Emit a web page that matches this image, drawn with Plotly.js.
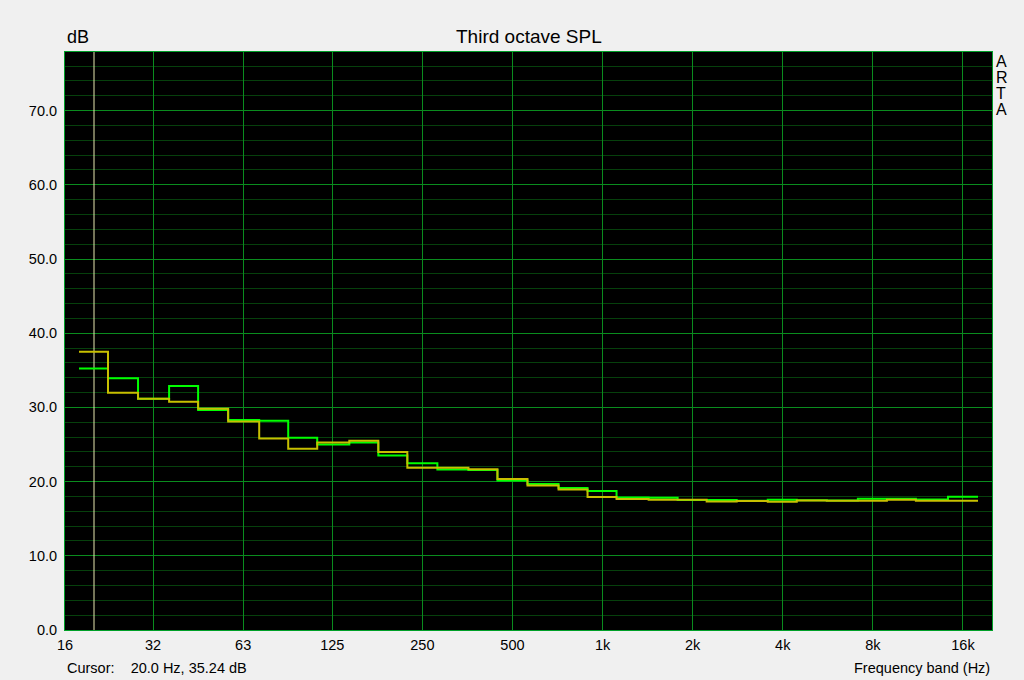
<!DOCTYPE html>
<html>
<head>
<meta charset="utf-8">
<script src="https://cdn.plot.ly/plotly-3.0.1.min.js"></script>
<style>
html,body{margin:0;padding:0;background:#f0f0f0;}
#chart{width:1024px;height:680px;}
</style>
</head>
<body>
<div id="chart"></div>
<script>
// Third-octave band centre frequencies (Hz)
var bands = [20, 25, 31.5, 40, 50, 63, 80, 100, 125, 160, 200, 250, 315, 400, 500, 630, 800,
             1000, 1250, 1600, 2000, 2500, 3150, 4000, 5000, 6300, 8000, 10000, 12500, 16000];
// Green series (dB)
var greenDb = [35.24, 33.94, 31.15, 32.90, 29.65, 28.29, 28.20, 25.90, 25.00, 25.28, 23.53, 22.49,
               21.62, 21.55, 20.16, 19.67, 19.13, 18.72, 17.87, 17.82, 17.52, 17.51, 17.42, 17.56,
               17.48, 17.44, 17.69, 17.69, 17.60, 17.96];
// Yellow series (dB)
var yellowDb = [37.49, 31.97, 31.15, 30.76, 29.81, 28.10, 25.80, 24.42, 25.28, 25.50, 23.98, 21.87,
                21.87, 21.66, 20.34, 19.49, 18.95, 17.91, 17.67, 17.56, 17.56, 17.33, 17.40, 17.30,
                17.46, 17.42, 17.42, 17.56, 17.42, 17.42];
// Axis tick values and labels
var xTickVals = [16, 31.5, 63, 125, 250, 500, 1000, 2000, 4000, 8000, 16000];
var xTickText = ['16', '32', '63', '125', '250', '500', '1k', '2k', '4k', '8k', '16k'];
var minorX = [20, 25, 40, 50, 80, 100, 160, 200, 315, 400, 630, 800, 1250, 1600, 2500, 3150,
              5000, 6300, 10000, 12500];
var cursorFreq = 20.0;
var cursorDb = 35.24;
var yMax = 77.9;
var xMin = 16, xMax = 20000;

// Build step outlines: each band spans f/2^(1/6) .. f*2^(1/6)
function stepXY(vals) {
  var xs = [], ys = [];
  for (var i = 0; i < bands.length; i++) {
    xs.push(bands[i] / Math.pow(2, 1/6));
    ys.push(vals[i]);
  }
  xs.push(bands[bands.length - 1] * Math.pow(2, 1/6));
  ys.push(vals[vals.length - 1]);
  return {x: xs, y: ys};
}
var g = stepXY(greenDb), yl = stepXY(yellowDb);

var traces = [
  {x: [cursorFreq, cursorFreq], y: [0, yMax], type: 'scatter', mode: 'lines',
   line: {color: '#e8e8b0', width: 1}, hoverinfo: 'skip', showlegend: false},
  {x: g.x, y: g.y, type: 'scatter', mode: 'lines', line: {shape: 'hv', color: '#00ff00', width: 2},
   hoverinfo: 'skip', showlegend: false},
  {x: yl.x, y: yl.y, type: 'scatter', mode: 'lines', line: {shape: 'hv', color: '#c8c000', width: 2},
   hoverinfo: 'skip', showlegend: false}
];

var ff = 'Liberation Sans, Arial, sans-serif';
var font = {family: ff, size: 14.5, color: '#000'};
var bigFont = {family: ff, size: 18, color: '#000'};

var arta = ['A', 'R', 'T', 'A'];
var annotations = [
  {text: 'Third octave SPL', xref: 'paper', yref: 'paper', x: 0.5, y: 1, yanchor: 'bottom',
   yshift: 3, showarrow: false, font: {family: ff, size: 19, color: '#000'}},
  {text: 'dB', xref: 'paper', yref: 'paper', x: 0, y: 1, xanchor: 'left', yanchor: 'bottom',
   yshift: 3, showarrow: false, font: bigFont}
];
for (var k = 0; k < arta.length; k++) {
  annotations.push({text: arta[k], xref: 'paper', yref: 'paper', x: 1, y: 1, xanchor: 'left',
    yanchor: 'middle', xshift: 3, yshift: -9 - 16 * k, showarrow: false, borderpad: 0,
    font: {family: ff, size: 16, color: '#000'}});
}
annotations.push(
  {text: 'Cursor:&nbsp;&nbsp;&nbsp;&nbsp;' + cursorFreq.toFixed(1) + ' Hz, ' + cursorDb.toFixed(2) + ' dB',
   xref: 'paper', yref: 'paper', x: 0, y: 0, xanchor: 'left', yanchor: 'top', yshift: -28,
   showarrow: false, font: font},
  {text: 'Frequency band (Hz)', xref: 'paper', yref: 'paper', x: 1, y: 0, xanchor: 'right', yanchor: 'top',
   yshift: -28, showarrow: false, font: font}
);

var layout = {
  width: 1024, height: 680,
  paper_bgcolor: '#f0f0f0', plot_bgcolor: '#000000',
  margin: {l: 65, r: 32, t: 52, b: 50},
  font: font,
  showlegend: false,
  xaxis: {
    type: 'log',
    range: [Math.log10(xMin), Math.log10(xMax)],
    tickmode: 'array', tickvals: xTickVals, ticktext: xTickText,
    showgrid: true, gridcolor: '#0a8c1e', gridwidth: 1,
    ticks: '', zeroline: false,
    showline: true, mirror: true, linecolor: '#00a028', linewidth: 1,
    tickfont: font, ticklabelstandoff: 2
  },
  xaxis2: {
    type: 'log', overlaying: 'x', side: 'top',
    range: [Math.log10(xMin), Math.log10(xMax)],
    tickmode: 'array', tickvals: minorX, showticklabels: false,
    showgrid: true, gridcolor: '#06400c', gridwidth: 1,
    ticks: '', zeroline: false, showline: false
  },
  yaxis: {
    range: [0, yMax],
    tickmode: 'linear', tick0: 0, dtick: 10, tickformat: '.1f',
    showgrid: true, gridcolor: '#0a8c1e', gridwidth: 1,
    minor: {tick0: 0, dtick: 2, showgrid: true, gridcolor: '#06400c', gridwidth: 1, ticks: ''},
    ticks: '', zeroline: false,
    showline: true, mirror: true, linecolor: '#00a028', linewidth: 1,
    tickfont: font, ticklabelstandoff: 4
  },
  annotations: annotations
};

Plotly.newPlot('chart', traces, layout, {displayModeBar: false, staticPlot: true});
</script>
</body>
</html>
